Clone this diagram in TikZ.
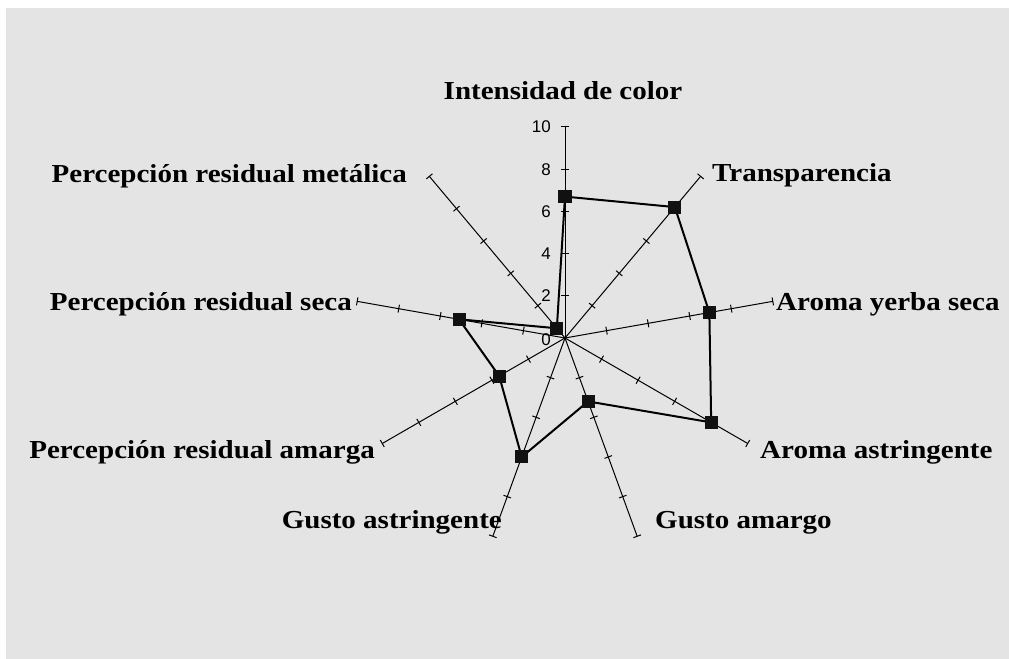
\documentclass[tikz,border=0pt]{standalone}
\usepackage{fontspec}
\newfontfamily\lblfont[FakeStretch=1.12]{Liberation Serif}
\newfontfamily\tickfont{Liberation Sans}
\definecolor{bggray}{RGB}{228,228,228}
\definecolor{markgray}{RGB}{17,17,17}
\tikzset{
  axisline/.style={black,line width=1bp},
  dataline/.style={black,line width=2bp,line join=miter},
  marker/.style={rectangle,fill=markgray,draw=none,minimum size=13bp,inner sep=0pt},
  lbl/.style={font=\lblfont\bfseries\fontsize{26}{28}\selectfont,inner sep=0pt},
  ticklbl/.style={font=\tickfont\fontsize{17}{19}\selectfont,inner sep=0pt,anchor=east},
}
\begin{document}
\begin{tikzpicture}[line join=bevel,]
%%
\useasboundingbox (-565bp,-321bp) rectangle (444bp,338bp);
\fill [bggray] (-559bp,-330bp) rectangle (455bp,330bp);
%
\coordinate (centre) at (0bp,0bp);
\coordinate (axis_0) at (90:211bp);
\coordinate (axis_1) at (50:211bp);
\coordinate (axis_2) at (10:211bp);
\coordinate (axis_3) at (-30:211bp);
\coordinate (axis_4) at (-70:211bp);
\coordinate (axis_5) at (-110:211bp);
\coordinate (axis_6) at (-150:211bp);
\coordinate (axis_7) at (170:211bp);
\coordinate (axis_8) at (130:211bp);
  \draw [axisline] (centre) -- (axis_0);
  \draw [axisline] (centre) -- (axis_1);
  \draw [axisline] (centre) -- (axis_2);
  \draw [axisline] (centre) -- (axis_3);
  \draw [axisline] (centre) -- (axis_4);
  \draw [axisline] (centre) -- (axis_5);
  \draw [axisline] (centre) -- (axis_6);
  \draw [axisline] (centre) -- (axis_7);
  \draw [axisline] (centre) -- (axis_8);
\foreach \a in {90,50,10,-30,-70,-110,-150,170,130}
  \foreach \r in {42.2,84.4,126.6,168.8,211}
    \draw [axisline,rotate=\a] (\r bp,-4bp) -- (\r bp,4bp);
%
\node (tick_0) at (-14bp,-2bp) [ticklbl] {0};
\node (tick_2) at (-14bp,42.2bp) [ticklbl] {2};
\node (tick_4) at (-14bp,84.4bp) [ticklbl] {4};
\node (tick_6) at (-14bp,126.6bp) [ticklbl] {6};
\node (tick_8) at (-14bp,168.8bp) [ticklbl] {8};
\node (tick_10) at (-14bp,211bp) [ticklbl] {10};
%
\node (label_0) at (-2bp,238bp) [lbl,anchor=base] {Intensidad de color};
\node (label_1) at (147bp,156bp) [lbl,anchor=base west] {Transparencia};
\node (label_2) at (211bp,28bp) [lbl,anchor=base west] {Aroma yerba seca};
\node (label_3) at (195bp,-120bp) [lbl,anchor=base west] {Aroma astringente};
\node (label_4) at (90bp,-190bp) [lbl,anchor=base west] {Gusto amargo};
\node (label_5) at (-63bp,-190bp) [lbl,anchor=base east] {Gusto astringente};
\node (label_6) at (-190bp,-120bp) [lbl,anchor=base east] {Percepción residual amarga};
\node (label_7) at (-213bp,28bp) [lbl,anchor=base east] {Percepción residual seca};
\node (label_8) at (-158bp,155bp) [lbl,anchor=base east] {Percepción residual metálica};
%
\node (node_0) at (90:141.4bp) [marker] {};
\node (node_1) at (50:170.9bp) [marker] {};
\node (node_2) at (10:146.6bp) [marker] {};
\node (node_3) at (-30:168.8bp) [marker] {};
\node (node_4) at (-70:67.5bp) [marker] {};
\node (node_5) at (-110:126.6bp) [marker] {};
\node (node_6) at (-150:76bp) [marker] {};
\node (node_7) at (170:107.6bp) [marker] {};
\node (node_8) at (130:12.7bp) [marker] {};
  \draw [dataline] (node_0.center) -- (node_1.center) -- (node_2.center) -- (node_3.center)
    -- (node_4.center) -- (node_5.center) -- (node_6.center) -- (node_7.center)
    -- (node_8.center) -- cycle;
  \node at (node_0) [marker] {};
  \node at (node_1) [marker] {};
  \node at (node_2) [marker] {};
  \node at (node_3) [marker] {};
  \node at (node_4) [marker] {};
  \node at (node_5) [marker] {};
  \node at (node_6) [marker] {};
  \node at (node_7) [marker] {};
  \node at (node_8) [marker] {};
%
\end{tikzpicture}
\end{document}
